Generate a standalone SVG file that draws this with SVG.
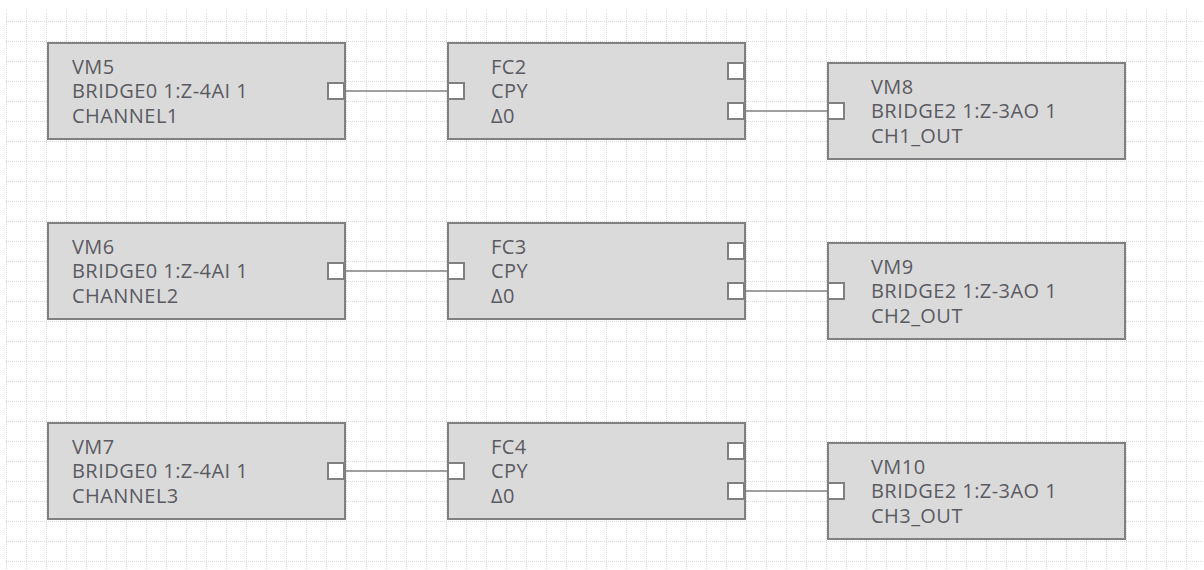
<svg xmlns="http://www.w3.org/2000/svg" width="1204" height="570" viewBox="0 0 1204 570">
<style>
.box{fill:#dadada;stroke:#808080;stroke-width:2}
.port{fill:#ffffff;stroke:#808080;stroke-width:2}
.lbl{font-family:"Open Sans","Noto Sans","DejaVu Sans",sans-serif;font-size:20px;letter-spacing:0.45px;fill:#5a5a62}
.wire{stroke:#808080;stroke-width:1.6;fill:none}
</style>
<defs>
<pattern id="grid" patternUnits="userSpaceOnUse" x="6" y="21" width="20" height="20">
<path d="M0 0.5H20" stroke="#d9d9d9" stroke-width="1" stroke-dasharray="1 1"/>
<path d="M0.5 1V20" stroke="#d9d9d9" stroke-width="1" stroke-dasharray="1 1"/>
</pattern>
</defs>
<rect width="1204" height="570" fill="#ffffff"/>
<rect x="6" y="9" width="1198" height="561" fill="url(#grid)"/>

<g id="connectors">
<line class="wire" x1="345" y1="91" x2="448" y2="91"/>
<line class="wire" x1="745" y1="111" x2="828" y2="111"/>
<line class="wire" x1="345" y1="271" x2="448" y2="271"/>
<line class="wire" x1="745" y1="291" x2="828" y2="291"/>
<line class="wire" x1="345" y1="471" x2="448" y2="471"/>
<line class="wire" x1="745" y1="491" x2="828" y2="491"/>
</g>

<g id="VM5" transform="translate(47,42)">
<rect class="box" x="1" y="1" width="297" height="96"/>
<rect class="port" x="281" y="41" width="16" height="16"/>
<text class="lbl"><tspan x="25" y="31.5">VM5</tspan><tspan x="25" y="56">BRIDGE0 1:Z-4AI 1</tspan><tspan x="25" y="80.5">CHANNEL1</tspan></text>
</g>
<g id="FC2" transform="translate(447,42)">
<rect class="box" x="1" y="1" width="297" height="96"/>
<rect class="port" x="1" y="41" width="16" height="16"/>
<rect class="port" x="281" y="21" width="16" height="16"/>
<rect class="port" x="281" y="61" width="16" height="16"/>
<text class="lbl"><tspan x="44" y="31.5">FC2</tspan><tspan x="44" y="56">CPY</tspan><tspan x="44" y="80.5">Δ0</tspan></text>
</g>
<g id="VM8" transform="translate(827,62)">
<rect class="box" x="1" y="1" width="297" height="96"/>
<rect class="port" x="1" y="41" width="16" height="16"/>
<text class="lbl"><tspan x="44" y="31.5">VM8</tspan><tspan x="44" y="56">BRIDGE2 1:Z-3AO 1</tspan><tspan x="44" y="80.5">CH1_OUT</tspan></text>
</g>

<g id="VM6" transform="translate(47,222)">
<rect class="box" x="1" y="1" width="297" height="96"/>
<rect class="port" x="281" y="41" width="16" height="16"/>
<text class="lbl"><tspan x="25" y="31.5">VM6</tspan><tspan x="25" y="56">BRIDGE0 1:Z-4AI 1</tspan><tspan x="25" y="80.5">CHANNEL2</tspan></text>
</g>
<g id="FC3" transform="translate(447,222)">
<rect class="box" x="1" y="1" width="297" height="96"/>
<rect class="port" x="1" y="41" width="16" height="16"/>
<rect class="port" x="281" y="21" width="16" height="16"/>
<rect class="port" x="281" y="61" width="16" height="16"/>
<text class="lbl"><tspan x="44" y="31.5">FC3</tspan><tspan x="44" y="56">CPY</tspan><tspan x="44" y="80.5">Δ0</tspan></text>
</g>
<g id="VM9" transform="translate(827,242)">
<rect class="box" x="1" y="1" width="297" height="96"/>
<rect class="port" x="1" y="41" width="16" height="16"/>
<text class="lbl"><tspan x="44" y="31.5">VM9</tspan><tspan x="44" y="56">BRIDGE2 1:Z-3AO 1</tspan><tspan x="44" y="80.5">CH2_OUT</tspan></text>
</g>

<g id="VM7" transform="translate(47,422)">
<rect class="box" x="1" y="1" width="297" height="96"/>
<rect class="port" x="281" y="41" width="16" height="16"/>
<text class="lbl"><tspan x="25" y="31.5">VM7</tspan><tspan x="25" y="56">BRIDGE0 1:Z-4AI 1</tspan><tspan x="25" y="80.5">CHANNEL3</tspan></text>
</g>
<g id="FC4" transform="translate(447,422)">
<rect class="box" x="1" y="1" width="297" height="96"/>
<rect class="port" x="1" y="41" width="16" height="16"/>
<rect class="port" x="281" y="21" width="16" height="16"/>
<rect class="port" x="281" y="61" width="16" height="16"/>
<text class="lbl"><tspan x="44" y="31.5">FC4</tspan><tspan x="44" y="56">CPY</tspan><tspan x="44" y="80.5">Δ0</tspan></text>
</g>
<g id="VM10" transform="translate(827,442)">
<rect class="box" x="1" y="1" width="297" height="96"/>
<rect class="port" x="1" y="41" width="16" height="16"/>
<text class="lbl"><tspan x="44" y="31.5">VM10</tspan><tspan x="44" y="56">BRIDGE2 1:Z-3AO 1</tspan><tspan x="44" y="80.5">CH3_OUT</tspan></text>
</g>
</svg>
